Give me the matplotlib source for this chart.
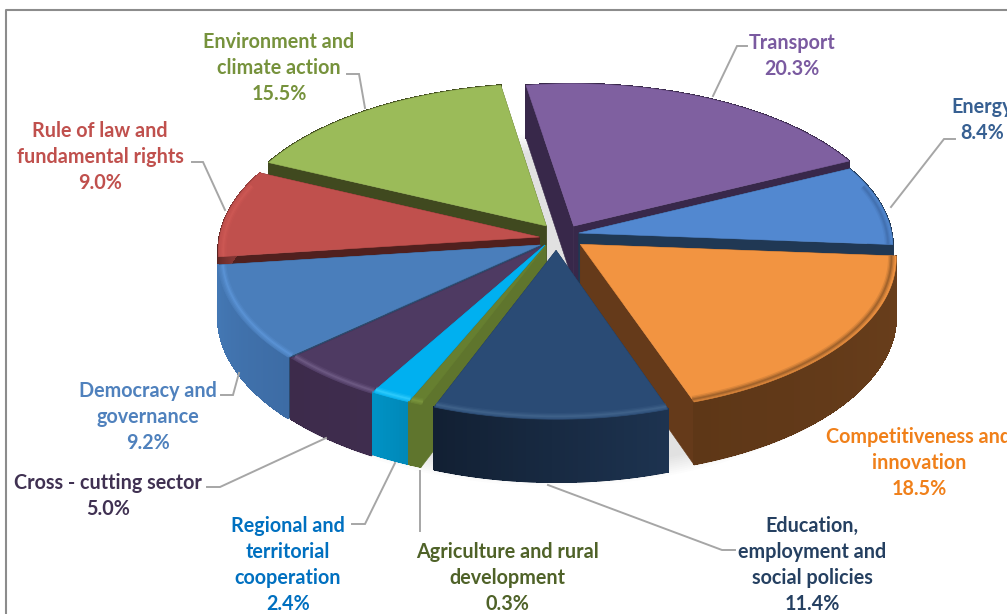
import numpy as np
import matplotlib
matplotlib.use("Agg")
import matplotlib.pyplot as plt
from matplotlib.patches import Polygon, Ellipse
from matplotlib.colors import to_rgb

# ---- data ----
categories = ["Transport", "Energy", "Competitiveness and innovation",
              "Education, employment and social policies",
              "Agriculture and rural development",
              "Regional and territorial cooperation", "Cross - cutting sector",
              "Democracy and governance", "Rule of law and fundamental rights",
              "Environment and climate action"]
values = [20.3, 8.4, 18.5, 11.4, 0.3, 2.4, 5.0, 9.2, 9.0, 15.5]
label_lines = [["Transport"], ["Energy"], ["Competitiveness and", "innovation"],
               ["Education,", "employment and", "social policies"],
               ["Agriculture and rural", "development"],
               ["Regional and", "territorial", "cooperation"],
               ["Cross - cutting sector"], ["Democracy and", "governance"],
               ["Rule of law and", "fundamental rights"],
               ["Environment and", "climate action"]]

# ---- style ----
explode = [0.103, 0.09, 0.097, 0.08, 0.05, 0.05, 0.057, 0.058, 0.04, 0.08]
explode_turn = [14, -10, -13, -10, 0, 0, -11, -26, 0, 24]
radius = [1.0, 0.98, 0.98, 0.98, 1.0, 1.0, 1.0, 1.0, 1.0, 1.0]
edge_nudge = [0, 0, 0, 0, -1, 0, -2, -2, 0, 0, 0]
draw_order = [0, 9, 1, 8, 7, 2, 6, 5, 4, 3]
top_col = ["#7f60a0", "#5288d0", "#f29441", "#2a4b75", "#667f30",
           "#00b0f0", "#4e3a62", "#4a7ebb", "#c0504d", "#9bbb59"]
cut_col = ["#38284a", "#203854", "#653a1a", "#1a2d47", "#5f752d",
           "#0090bf", "#3a2848", "#2c4a6e", "#50201e", "#40491f"]
wall_a = ["#38284a", "#203854", "#6a3f1c", "#1d3350", "#5f752d",
          "#0088b8", "#3f2d4e", "#3d6ca5", "#50201e", "#40491f"]
wall_b = ["#38284a", "#203854", "#5e3717", "#122033", "#5f752d",
          "#0092c4", "#3d2b4b", "#4478b4", "#a04240", "#40491f"]
rim_col = ["#7f60a0", "#3f6ba8", "#8a5526", "#45688f", "#7f9a40",
           "#38d0ff", "#75628c", "#5f98dc", "#d05a56", "#9bbb59"]
label_col = ["#7a5aa0", "#376092", "#f0801a", "#254061", "#4f6228",
             "#0070c0", "#403152", "#4f81bd", "#c0504d", "#76923c"]
label_xy = [(792, 43), (982, 107), (919, 437), (812, 526), (507, 552),
            (288, 526), (108, 483), (148, 391), (100, 131), (279, 42)]
leaders = [[(713, 96), (737, 46), (747, 46)],
           [(891, 207), (944, 139), (955, 139)],
           None,
           [(548, 485), (722, 550), (735, 550)],
           [(420, 471), (420, 531)],
           [(395, 463), (365, 524), (352, 524)],
           [(326, 438), (220, 487), (207, 487)],
           [(239, 373), (233, 395), (221, 395)],
           [(225, 210), (203, 162), (192, 162)],
           [(365, 108), (359, 74), (347, 74)]]
CX, CY, RX, RY, P, DEPTH = 552, 238, 320, 156, 0.083, 58
START = -9.0
LINE_H = 26

plt.rcParams["font.family"] = ["Lato", "DejaVu Sans"]
fig = plt.figure(figsize=(10.07, 6.14), dpi=100)
ax = fig.add_axes([0, 0, 1, 1])
ax.set_xlim(0, 1007)
ax.set_ylim(614, 0)
ax.axis("off")


def project(u, v, d=0.0):
    s = 1.0 / (1.0 - P * v)
    return CX + RX * u * s, CY + RY * v * s + d * DEPTH * s


def mix(a, b, f):
    a, b = np.array(to_rgb(a)), np.array(to_rgb(b))
    return tuple(a + (b - a) * f)


def poly(pts, col, alpha=1.0, aa=True, lw=0.4):
    ax.add_patch(Polygon(pts, closed=True, facecolor=col, edgecolor=col,
                         linewidth=lw, alpha=alpha, antialiased=aa))


# frame
ax.plot([6, 6, 1007], [614, 10, 10], color="#8c8c8c", lw=1.5, solid_capstyle="butt")

# ground shadow
for k in range(10):
    ax.add_patch(Ellipse((CX + 2, CY + 62 + 10), 2 * (RX + 18 - 2.0 * k),
                         2 * (RY + 20 - 2.0 * k), facecolor="#000000",
                         edgecolor="none", alpha=0.012))

# slices
fr = np.array(values) / np.sum(values)
edges = START + np.concatenate([[0], np.cumsum(fr)]) * 360.0 + np.array(edge_nudge)

for i in draw_order:
    val = values[i]
    t = np.radians(np.linspace(edges[i], edges[i + 1], max(6, int(val * 5))))
    mid = np.radians((edges[i] + edges[i + 1]) / 2 + explode_turn[i])
    ou, ov = explode[i] * np.sin(mid), -explode[i] * np.cos(mid)
    au, av = ou + radius[i] * np.sin(t), ov - radius[i] * np.cos(t)
    iu, iv = ou + 0.985 * radius[i] * np.sin(t), ov - 0.985 * radius[i] * np.cos(t)
    top = [project(ou, ov)] + [project(a, b) for a, b in zip(au, av)]
    tip0, tip1 = project(ou, ov), project(ou, ov, 1)
    # cut faces
    for end in (0, -1):
        poly([tip0, project(au[end], av[end]), project(au[end], av[end], 1), tip1], cut_col[i])
    # outer wall: solid base then gradient strips
    n = len(au)
    base = [project(a, b) for a, b in zip(au, av)] + \
           [project(a, b, 1) for a, b in zip(au[::-1], av[::-1])]
    poly(base, mix(wall_a[i], wall_b[i], 0.5))
    for j in range(n - 1):
        f = j / max(1, n - 2)
        poly([project(au[j], av[j]), project(au[j + 1], av[j + 1]),
              project(au[j + 1], av[j + 1], 0.985), project(au[j], av[j], 0.985)],
             mix(wall_a[i], wall_b[i], f), aa=False, lw=0.8)
    # top surface
    poly(top, top_col[i])
    # rim highlight, just inside the edge
    pts = np.array([project(u, v) for u, v in zip(iu, iv)])
    vis = iv > -0.35
    if vis.sum() > 1:
        for w, al in [(5, 0.2), (3, 0.35), (1.2, 0.55)]:
            ax.plot(pts[vis, 0], pts[vis, 1], color=rim_col[i], lw=w, alpha=al,
                    solid_capstyle="butt")

# leaders
for pts in leaders:
    if pts:
        xs, ys = zip(*pts)
        ax.plot(xs, ys, color="#a6a6a6", lw=1.4, solid_joinstyle="miter")

# labels
for i, lines in enumerate(label_lines):
    x, y = label_xy[i]
    for k, s in enumerate(list(lines) + [f"{values[i]:.1f}%"]):
        ax.text(x, y + k * LINE_H, s, color=label_col[i], fontsize=14.2, fontweight="bold",
                ha="center", va="center", clip_on=True)

fig.savefig("out.png", dpi=100, facecolor="white")
